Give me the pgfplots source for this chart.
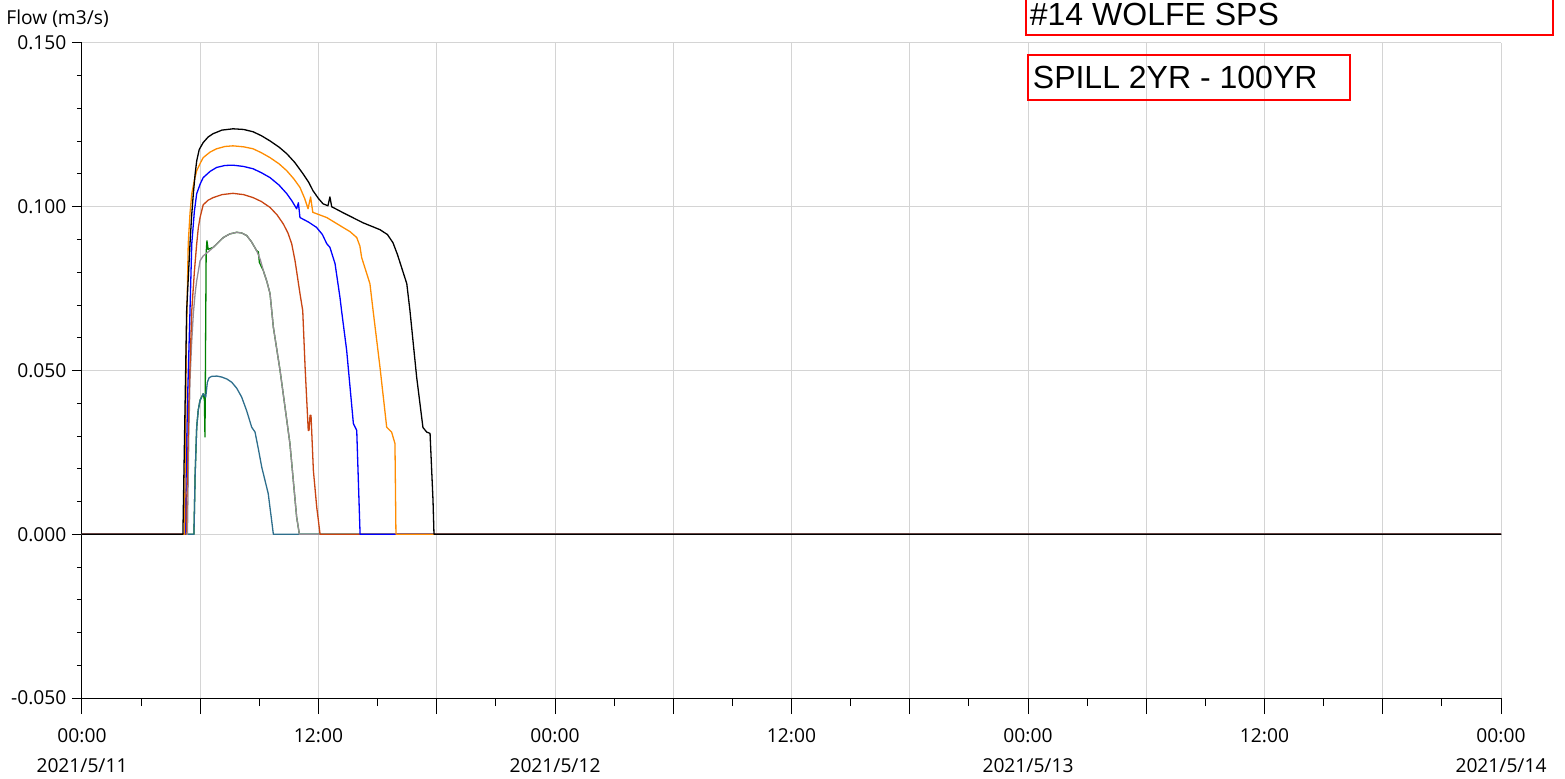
\documentclass[border=0pt]{standalone}
\usepackage{fontspec}
\setmainfont{Open Sans}
\newfontfamily\arialf{Liberation Sans}
\usepackage{pgfplots}
\pgfplotsset{compat=1.18}
\definecolor{cBlack}{RGB}{0,0,0}
\definecolor{cOrange}{RGB}{255,140,0}
\definecolor{cBlue}{RGB}{0,0,255}
\definecolor{cRed}{RGB}{200,68,18}
\definecolor{cGray}{RGB}{150,140,150}
\definecolor{cGreen}{RGB}{0,128,0}
\definecolor{cTeal}{RGB}{46,110,140}
\definecolor{cGrid}{RGB}{212,212,212}
\begin{document}
\begin{tikzpicture}
\begin{axis}[
  at={(0,0)}, anchor=south west,
  scale only axis, width=709.5pt, height=327.5pt,
  xmin=0, xmax=72, ymin=-0.05, ymax=0.15,
  axis x line*=bottom, axis y line*=left,
  axis line style={black, line width=0.5pt, -},
  tick align=outside,
  xtick={0,6,...,72},
  xticklabels={{00:00\\2021/5/11},,12:00,,{00:00\\2021/5/12},,12:00,,{00:00\\2021/5/13},,12:00,,{00:00\\2021/5/14}},
  minor x tick num=1,
  ytick={-0.05,0,0.05,0.1,0.15},
  yticklabels={-0.050,0.000,0.050,0.100,0.150},
  minor y tick num=4,
  xmajorgrids, ymajorgrids,
  major grid style={color=cGrid, line width=0.5pt},
  tick style={black, line width=0.5pt},
  major x tick style={/pgfplots/major tick length=8pt},
  minor x tick style={/pgfplots/minor tick length=4pt},
  major y tick style={/pgfplots/major tick length=5pt},
  minor y tick style={/pgfplots/minor tick length=2.5pt},
  xticklabel style={align=center, yshift=-7.5pt, font=\fontsize{9.6}{15}\selectfont},
  yticklabel style={font=\fontsize{9.6}{12}\selectfont},
  every axis plot/.append style={line width=0.65pt, line join=round},
]
% green
\addplot[cGreen] coordinates {(0,0)(5.68,0)(5.74,0.018)(5.82,0.0327)(5.90,0.038)(5.99,0.0409)(6.15,0.0429)(6.21,0.0410)(6.24,0.0297)(6.30,0.0860)(6.34,0.0896)(6.40,0.0870)(6.66,0.0876)(6.9,0.0890)(7.17,0.0906)(7.5,0.0917)(7.85,0.0922)(8.1,0.0920)(8.36,0.0912)(8.6,0.0893)(8.86,0.0866)(8.95,0.0862)(9.0,0.0830)(9.20,0.0805)(9.38,0.0772)(9.54,0.0735)(9.71,0.0632)(10.05,0.0500)(10.55,0.0277)(10.89,0.0053)(11.03,0)(72,0)};
% teal
\addplot[cTeal] coordinates {(0,0)(5.68,0)(5.74,0.018)(5.82,0.0327)(5.90,0.038)(5.99,0.0409)(6.15,0.0429)(6.28,0.0419)(6.36,0.0464)(6.45,0.0478)(6.58,0.0482)(6.85,0.0483)(7.09,0.0480)(7.35,0.0474)(7.60,0.0464)(7.85,0.0446)(8.10,0.0419)(8.35,0.0378)(8.61,0.0327)(8.78,0.0312)(8.95,0.0260)(9.12,0.0205)(9.45,0.0124)(9.71,0)(72,0)};
% gray
\addplot[cGray] coordinates {(0,0)(5.35,0)(5.42,0.030)(5.48,0.0470)(5.56,0.058)(5.65,0.0674)(5.74,0.0735)(5.82,0.0774)(5.99,0.0835)(6.15,0.0850)(6.4,0.0862)(6.66,0.0876)(6.9,0.0890)(7.17,0.0906)(7.5,0.0917)(7.85,0.0922)(8.1,0.0920)(8.36,0.0912)(8.6,0.0893)(8.86,0.0866)(9.05,0.0838)(9.20,0.0805)(9.38,0.0772)(9.54,0.0735)(9.71,0.0632)(10.05,0.0500)(10.55,0.0277)(10.89,0.0053)(11.03,0)(72,0)};
% red-brown
\addplot[cRed] coordinates {(0,0)(5.28,0)(5.42,0.040)(5.57,0.0683)(5.70,0.0800)(5.82,0.0887)(5.90,0.0935)(5.99,0.0967)(6.15,0.1006)(6.4,0.1020)(6.66,0.1028)(7.1,0.1037)(7.66,0.1041)(8.2,0.1037)(8.68,0.1028)(9.1,0.1016)(9.54,0.0998)(9.9,0.0975)(10.21,0.0948)(10.45,0.0920)(10.64,0.0887)(10.81,0.0835)(11.06,0.0735)(11.20,0.0683)(11.32,0.0510)(11.48,0.0317)(11.52,0.0317)(11.57,0.0363)(11.62,0.0363)(11.66,0.0308)(11.74,0.0195)(11.91,0.0083)(12.08,0)(72,0)};
% blue
\addplot[cBlue] coordinates {(0,0)(5.23,0)(5.35,0.040)(5.48,0.0683)(5.57,0.0887)(5.70,0.0985)(5.82,0.1040)(6.0,0.1070)(6.15,0.1089)(6.5,0.1108)(6.83,0.1120)(7.25,0.1126)(7.66,0.1127)(8.2,0.1123)(8.68,0.1116)(9.1,0.1104)(9.54,0.1089)(10.0,0.1066)(10.39,0.1040)(10.65,0.1018)(10.89,0.0994)(10.98,0.1012)(11.06,0.0967)(11.5,0.0953)(11.90,0.0937)(12.2,0.0915)(12.42,0.0887)(12.58,0.0876)(12.84,0.0826)(13.09,0.0723)(13.17,0.0683)(13.43,0.0561)(13.77,0.0338)(13.94,0.0317)(14.11,0)(72,0)};
% orange
\addplot[cOrange] coordinates {(0,0)(5.20,0)(5.30,0.060)(5.39,0.0887)(5.48,0.0980)(5.57,0.1040)(5.70,0.1080)(5.82,0.1110)(6.0,0.1133)(6.15,0.1150)(6.5,0.1167)(6.83,0.1177)(7.25,0.1184)(7.66,0.1186)(8.2,0.1183)(8.68,0.1177)(9.1,0.1165)(9.54,0.1150)(10.0,0.1131)(10.39,0.1110)(10.75,0.1085)(11.06,0.1059)(11.3,0.1025)(11.47,0.0994)(11.60,0.1030)(11.71,0.0983)(12.42,0.0967)(13.24,0.0937)(13.6,0.0924)(13.94,0.0906)(14.1,0.0880)(14.19,0.0845)(14.61,0.0765)(14.77,0.0683)(15.12,0.0510)(15.46,0.0327)(15.71,0.0312)(15.88,0.0277)(15.93,0)(72,0)};
% black
\addplot[cBlack] coordinates {(0,0)(5.12,0)(5.31,0.0683)(5.48,0.0887)(5.56,0.0970)(5.65,0.1040)(5.74,0.1100)(5.82,0.1140)(5.95,0.1175)(6.15,0.1196)(6.4,0.1213)(6.65,0.1223)(7.1,0.1234)(7.66,0.1238)(8.2,0.1236)(8.68,0.1229)(9.1,0.1217)(9.54,0.1201)(10.0,0.1182)(10.39,0.1162)(10.8,0.1135)(11.21,0.1101)(11.5,0.1075)(11.72,0.1049)(12.0,0.1025)(12.23,0.1009)(12.48,0.1003)(12.58,0.1030)(12.67,0.1000)(13.24,0.0982)(14.26,0.0951)(15.12,0.0930)(15.5,0.0915)(15.78,0.0890)(16.0,0.0855)(16.14,0.0829)(16.48,0.0765)(16.64,0.0683)(16.98,0.0480)(17.30,0.0326)(17.49,0.0312)(17.66,0.0308)(17.81,0.0104)(17.86,0)(72,0)};
\end{axis}
\node[anchor=base west, inner sep=0pt, font=\fontsize{9.6}{12}\selectfont] at (-38pt,336.75pt) {Flow (m3/s)};
\draw[red, line width=1pt] (472pt,331.5pt) rectangle (735.5pt,356pt);
\node[anchor=base west, inner sep=0pt, font=\arialf\fontsize{16}{19}\selectfont] at (473.75pt,336pt) {\#14 WOLFE SPS};
\draw[red, line width=1pt] (473pt,299pt) rectangle (634pt,321.5pt);
\node[anchor=base west, inner sep=0pt, font=\arialf\fontsize{16}{19}\selectfont] at (475.25pt,304.5pt) {SPILL 2YR - 100YR};
\pgfresetboundingbox
\path[use as bounding box] (-41pt,-40pt) rectangle (741.5pt,349pt);
\end{tikzpicture}
\end{document}
